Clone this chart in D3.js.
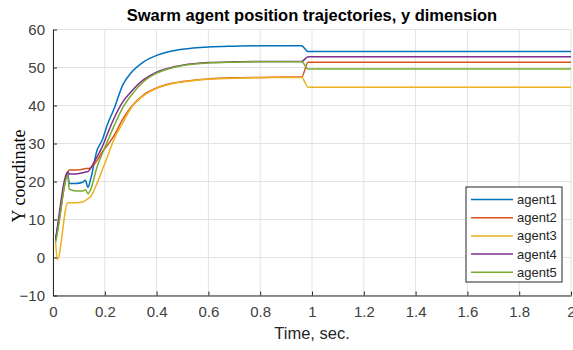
<!DOCTYPE html>
<html>
<head>
<meta charset="utf-8">
<script src="https://cdn.jsdelivr.net/npm/d3@7"></script>
<style>
  html, body { margin: 0; padding: 0; background: #fff; }
  text { font-family: 'Liberation Sans', Arial, sans-serif; }
</style>
</head>
<body>
<div id="app"></div>
<script>
// time samples (sec.) shared by all agents
const TIME = [0.010, 0.017, 0.057, 0.063, 0.090, 0.115, 0.125, 0.135, 0.145, 0.170,
  0.190, 0.210, 0.235, 0.270, 0.300, 0.350, 0.400, 0.450, 0.500, 0.600,
  0.700, 0.800, 0.960, 0.985, 2.000];

const AGENT1 = [5, 7.5, 22, 19.5, 19.5, 19.8, 20.3, 18.5, 20.5, 28.2,
  30.9, 35, 39, 45.5, 48.5, 51.5, 53.2, 54.2, 54.8, 55.4,
  55.6, 55.7, 55.7, 54.2, 54.2];
const AGENT2 = [4.5, 7, 22.5, 23, 23, 23.2, 23.4, 23.4, 23.6, 25.5,
  27.8, 29.5, 32, 36.5, 39.5, 42.8, 44.6, 45.7, 46.3, 47,
  47.3, 47.4, 47.5, 51.4, 51.4];
const AGENT3 = [4, -0.5, 14.4, 14.4, 14.4, 14.6, 15, 15.5, 16, 19.5,
  23, 26.5, 31, 35.5, 39.2, 42.6, 44.5, 45.6, 46.2, 46.9,
  47.2, 47.3, 47.4, 44.8, 44.8];
const AGENT4 = [4.5, 8, 22.5, 22, 22, 22.3, 22.5, 22.6, 23.5, 26.5,
  29.1, 32.5, 36.5, 41, 43.5, 46.8, 48.8, 49.9, 50.6, 51.3,
  51.5, 51.6, 51.6, 52.8, 52.8];
const AGENT5 = [4, 6.5, 21.5, 18, 17.5, 17.5, 17.8, 16.8, 17.8, 23.8,
  27.3, 30.5, 34.5, 39.5, 42.5, 46.3, 48.5, 49.7, 50.5, 51.2,
  51.4, 51.5, 51.5, 49.6, 49.6];

const NAMES = ['agent1', 'agent2', 'agent3', 'agent4', 'agent5'];
const SERIES = [AGENT1, AGENT2, AGENT3, AGENT4, AGENT5];
const COLORS = ['#0072BD', '#D95319', '#EDB120', '#7E2F8E', '#77AC30'];

const X_TICKS = [0, 0.2, 0.4, 0.6, 0.8, 1, 1.2, 1.4, 1.6, 1.8, 2];
const Y_TICKS = [-10, 0, 10, 20, 30, 40, 50, 60];

const width = 573, height = 350;
const margin = { top: 29.5, right: 2, bottom: 54.5, left: 53 };

const svg = d3.select('#app').append('svg')
  .attr('width', width)
  .attr('height', height);

const x = d3.scaleLinear().domain([0, 2]).range([margin.left, width - margin.right]);
const y = d3.scaleLinear().domain([-10, 60]).range([height - margin.bottom, margin.top]);

// grid
svg.append('g')
  .selectAll('line')
  .data(X_TICKS)
  .enter()
  .append('line')
  .attr('x1', (d) => x(d)).attr('x2', (d) => x(d))
  .attr('y1', y(-10)).attr('y2', y(60))
  .attr('stroke', '#e3e3e3').attr('stroke-width', 1);

svg.append('g')
  .selectAll('line')
  .data(Y_TICKS)
  .enter()
  .append('line')
  .attr('x1', x(0)).attr('x2', x(2))
  .attr('y1', (d) => y(d)).attr('y2', (d) => y(d))
  .attr('stroke', '#e3e3e3').attr('stroke-width', 1);

// lines
const line = d3.line()
  .x((d) => x(d[0]))
  .y((d) => y(d[1]))
  .curve(d3.curveMonotoneX);

svg.append('g')
  .selectAll('path')
  .data(SERIES)
  .enter()
  .append('path')
  .attr('d', (s) => line(TIME.map((t, i) => [t, s[i]])))
  .attr('fill', 'none')
  .attr('stroke', (d, i) => COLORS[i])
  .attr('stroke-width', 1.5);

// axes
const xAxis = svg.append('g')
  .attr('transform', `translate(0,${y(-10)})`)
  .call(d3.axisBottom(x).tickValues(X_TICKS).tickFormat(d3.format('~g'))
    .tickSizeInner(-4).tickSizeOuter(0).tickPadding(11));

const yAxis = svg.append('g')
  .attr('transform', `translate(${x(0)},0)`)
  .call(d3.axisLeft(y).tickValues(Y_TICKS)
    .tickSizeInner(-4).tickSizeOuter(0).tickPadding(8));

[xAxis, yAxis].forEach((g) => {
  g.select('.domain').attr('stroke', '#262626');
  g.selectAll('.tick line').attr('stroke', '#262626');
  g.selectAll('.tick text')
    .attr('fill', '#404040')
    .style('font-size', '15px')
    .style('font-family', "'Liberation Sans', Arial, sans-serif");
});

// labels
svg.append('text')
  .attr('x', (x(0) + x(2)) / 2)
  .attr('y', 21)
  .attr('text-anchor', 'middle')
  .style('font-size', '16.5px')
  .style('font-weight', 'bold')
  .attr('fill', '#000')
  .text('Swarm agent position trajectories, y dimension');

svg.append('text')
  .attr('x', (x(0) + x(2)) / 2)
  .attr('y', 339)
  .attr('text-anchor', 'middle')
  .style('font-size', '16.5px')
  .attr('fill', '#262626')
  .text('Time, sec.');

svg.append('text')
  .attr('transform', 'translate(25,176) rotate(-90)')
  .attr('text-anchor', 'middle')
  .style('font-family', "'Liberation Serif', 'Times New Roman', serif")
  .style('font-size', '18px')
  .attr('fill', '#000')
  .text('Y coordinate');

// legend
const legend = svg.append('g').attr('transform', 'translate(466,187)');
legend.append('rect')
  .attr('width', 96).attr('height', 95)
  .attr('fill', '#fff')
  .attr('stroke', '#262626').attr('stroke-width', 1);

const item = legend.selectAll('g.item')
  .data(NAMES)
  .enter()
  .append('g')
  .attr('class', 'item')
  .attr('transform', (d, i) => `translate(0,${12.5 + i * 18.2})`);

item.append('line')
  .attr('x1', 5).attr('x2', 47)
  .attr('stroke', (d, i) => COLORS[i])
  .attr('stroke-width', 1.5);

item.append('text')
  .attr('x', 51)
  .attr('dy', '0.35em')
  .style('font-size', '13px')
  .attr('fill', '#262626')
  .text((d) => d);
</script>
</body>
</html>
